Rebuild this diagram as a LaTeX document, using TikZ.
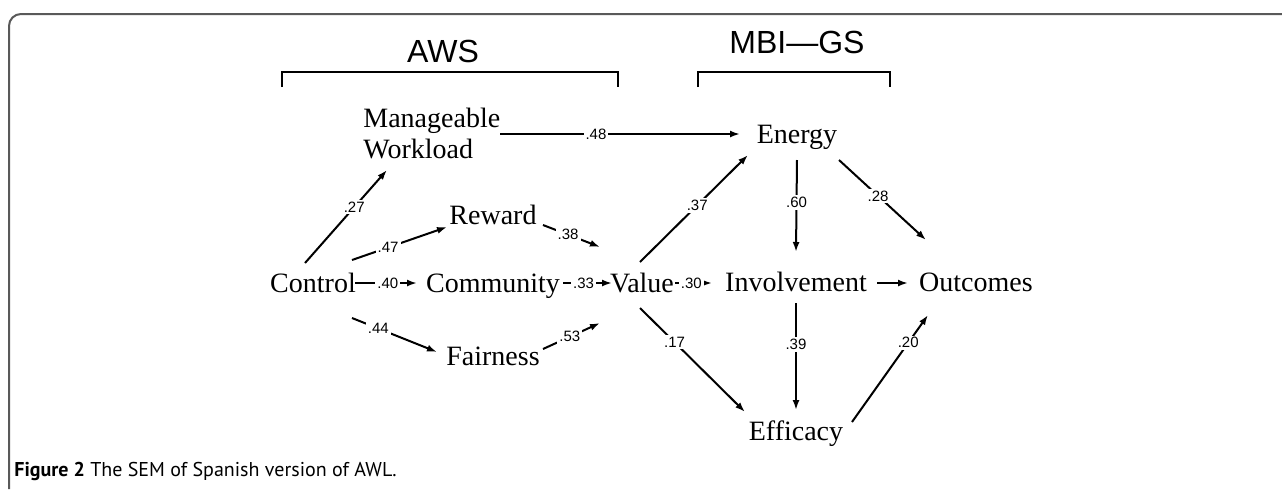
\documentclass[tikz,border=0pt]{standalone}
\usepackage{fontspec}
\setmainfont{Liberation Serif}
\newfontfamily\headfont{Liberation Sans}
\newfontfamily\capfont{PT Sans}
\usetikzlibrary{arrows.meta}

\tikzset{
  var/.style={anchor=base, inner sep=0pt, font=\fontsize{14}{15.5}\selectfont},
  coef/.style={fill=white, inner sep=1pt, font=\headfont\fontsize{7.5}{9}\selectfont},
  link/.style={line width=1pt, -{Latex[length=5pt,width=3.5pt]}},
}

\begin{document}
\begin{tikzpicture}[x=0.5pt, y=-0.5pt]

\useasboundingbox ( 0, 0 ) rectangle ( 1282, 489 );

% Frame
\draw [line width=1pt, gray!70!black, rounded corners=6pt] ( 9, 489 ) -- ( 9, 14 ) -- ( 1282, 14 );

% Scales
\node [anchor=base, inner sep=0pt, font=\headfont\fontsize{16}{18}\selectfont] (aws) at ( 443, 62 ) {AWS};
\node [anchor=base, inner sep=0pt, font=\headfont\fontsize{16}{18}\selectfont] (mbi) at ( 797, 53 ) {MBI—GS};
\draw [line width=0.6pt] ( 282, 87 ) -- ( 282, 72 ) -- ( 618, 72 ) -- ( 618, 87 );
\draw [line width=0.6pt] ( 698, 87 ) -- ( 698, 72 ) -- ( 890, 72 ) -- ( 890, 87 );

% Variables
\node [var, anchor=north west, align=left] (mw) at ( 363, 108 ) {Manageable\\Workload};
\node [var] (ctrl) at ( 313, 292 ) {Control};
\node [var] (reward) at ( 493, 224 ) {Reward};
\node [var] (comm) at ( 493, 292 ) {Community};
\node [var] (fair) at ( 493, 365 ) {Fairness};
\node [var] (value) at ( 642, 292 ) {Value};
\node [var] (energy) at ( 797, 143 ) {Energy};
\node [var] (invol) at ( 796, 291 ) {Involvement};
\node [var] (effic) at ( 796, 440 ) {Efficacy};
\node [var] (outc) at ( 976, 291 ) {Outcomes};

% Paths from Control
\draw [link] ([shift={( -8, -29 )}]ctrl.base) -- node [coef, pos=0.6] {.27} ([shift={( 24, 62 )}]mw.north west);
\draw [link] ([shift={( 39, -32 )}]ctrl.base) -- node [coef, pos=0.38] {.47} ([shift={( -46, 3 )}]reward.base);
\draw [link] ([shift={( 42, -9 )}]ctrl.base) -- node [coef, pos=0.53] {.40} ([shift={( -76, -9 )}]comm.base);
\draw [link] ([shift={( 39, 26 )}]ctrl.base) -- node [coef, pos=0.31] {.44} ([shift={( -56, -13 )}]fair.base);

% Paths to Value
\draw [link] ([shift={( 50, 1 )}]reward.base) -- node [coef, pos=0.44] {.38} ([shift={( -42, -45 )}]value.base);
\draw [link] ([shift={( 70, -9 )}]comm.base) -- node [coef, pos=0.42] {.33} ([shift={( -30, -9 )}]value.base);
\draw [link] ([shift={( 50, -16 )}]fair.base) -- node [coef, pos=0.47] {.53} ([shift={( -42, 31 )}]value.base);

% Paths to MBI-GS
\draw [link] ([shift={( 137, 26 )}]mw.north west) -- node [coef, pos=0.4] {.48} ([shift={( -57, -9 )}]energy.base);
\draw [link] ([shift={( -2, -30 )}]value.base) -- node [coef, pos=0.53] {.37} ([shift={( -49, 12 )}]energy.base);
\draw [link] ([shift={( 33, -9 )}]value.base) -- node [coef, pos=0.44] {.30} ([shift={( -84, -8 )}]invol.base);
\draw [link] ([shift={( -2, 16 )}]value.base) -- node [coef, pos=0.33] {.17} ([shift={( -51, -28 )}]effic.base);
\draw [link] ([shift={( 0, 17 )}]energy.base) -- node [coef, pos=0.46] {.60} ([shift={( 0, -39 )}]invol.base);
\draw [link] ([shift={( 0, 12 )}]invol.base) -- node [coef, pos=0.39] {.39} ([shift={( 0, -30 )}]effic.base);

% Paths to Outcomes
\draw [link] ([shift={( 42, 17 )}]energy.base) -- node [coef, pos=0.45] {.28} ([shift={( -50, -51 )}]outc.base);
\draw [link] ([shift={( 81, -8 )}]invol.base) -- ([shift={( -68, -8 )}]outc.base);
\draw [link] ([shift={( 56, -18 )}]effic.base) -- node [coef, pos=0.74] {.20} ([shift={( -48, 24 )}]outc.base);

% Caption
\node [anchor=base west, inner sep=0pt, font=\capfont\fontsize{10}{11}\selectfont] (cap) at ( 14, 476 ) {\textbf{Figure 2} The SEM of Spanish version of AWL.};

\end{tikzpicture}
\end{document}
